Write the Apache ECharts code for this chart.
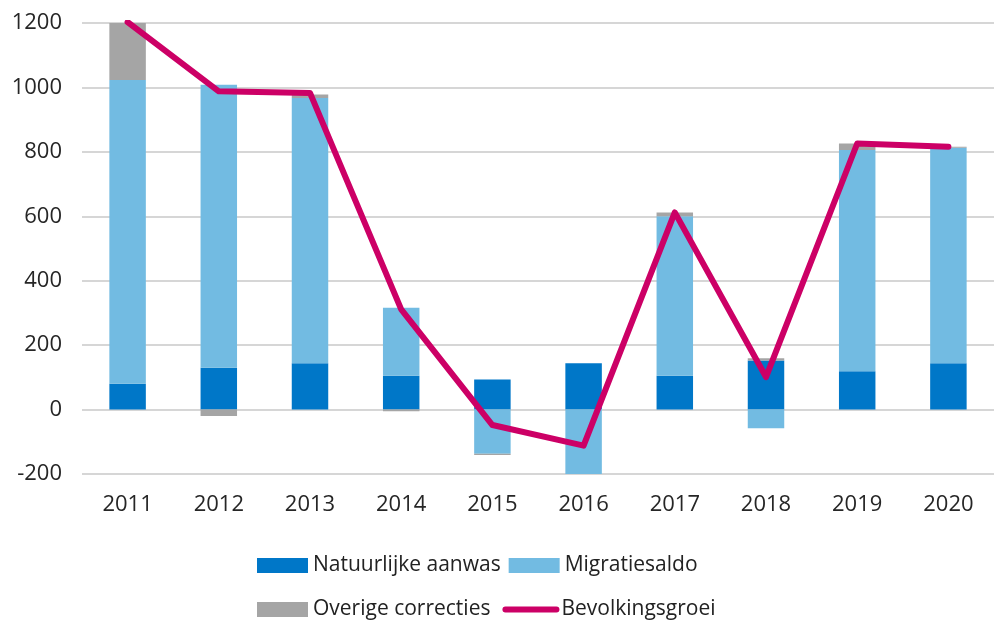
<!DOCTYPE html>
<html>
<head>
    <meta charset="utf-8">
    <title>Bevolkingsgroei</title>
    <script src="https://cdn.jsdelivr.net/npm/echarts@6/dist/echarts.min.js"></script>
    <style>
        html, body { margin: 0; padding: 0; background: #fff; }
        #main { width: 994px; height: 622px; }
    </style>
</head>
<body>
<div id="main"></div>
<script>
    // data
    var years = ['2011', '2012', '2013', '2014', '2015', '2016', '2017', '2018', '2019', '2020'];
    var natuurlijk = [80, 130, 144, 105, 93, 144, 105, 152, 119, 144];
    var migratie = [943, 878, 823, 211, -137, -205, 495, -58, 687, 669];
    var overig = [180, -20, 11, -5, -4, -51, 12, 7, 20, 3];
    var groei = [1203, 988, 983, 311, -48, -112, 612, 101, 826, 816];

    var font = 'Open Sans';
    var chart = echarts.init(document.getElementById('main'));

    var option = {
        animation: false,
        textStyle: { fontFamily: font },
        grid: { left: 82, right: -11, top: 23, bottom: 148 },
        legend: [
            {
                left: 252, top: 550,
                itemWidth: 51, itemHeight: 15, itemGap: 8,
                icon: 'rect',
                textStyle: { fontSize: 21, color: '#222', fontFamily: font },
                data: ['Natuurlijke aanwas', 'Migratiesaldo']
            },
            {
                left: 252, top: 594,
                itemWidth: 51, itemHeight: 15, itemGap: 12,
                textStyle: { fontSize: 21, color: '#222', fontFamily: font },
                lineStyle: { width: 6, cap: 'round' },
                data: [
                    { name: 'Overige correcties', icon: 'rect' },
                    { name: 'Bevolkingsgroei', itemStyle: { opacity: 0 } }
                ]
            }
        ],
        xAxis: {
            type: 'category',
            data: years,
            axisLine: { show: false, onZero: false },
            axisTick: { show: false },
            axisLabel: { fontSize: 22, color: '#262626', margin: 20 }
        },
        yAxis: {
            type: 'value',
            min: -200,
            max: 1200,
            interval: 200,
            axisLine: { show: false },
            axisTick: { show: false },
            axisLabel: {
                fontSize: 22, color: '#262626', margin: 20,
                formatter: function (v) { return String(v); }
            },
            splitLine: { lineStyle: { color: '#d6d6d6', width: 2 } }
        },
        series: [
            {
                name: 'Natuurlijke aanwas',
                type: 'bar',
                stack: 'tot',
                barWidth: '40%',
                itemStyle: { color: '#0077c8' },
                data: natuurlijk
            },
            {
                name: 'Migratiesaldo',
                type: 'bar',
                stack: 'tot',
                itemStyle: { color: '#72bbe2' },
                data: migratie
            },
            {
                name: 'Overige correcties',
                type: 'bar',
                stack: 'tot',
                itemStyle: { color: '#a5a5a5' },
                data: overig
            },
            {
                name: 'Bevolkingsgroei',
                type: 'line',
                symbol: 'none',
                lineStyle: { color: '#cc0066', width: 6, cap: 'round', join: 'round' },
                itemStyle: { color: '#cc0066' },
                data: groei,
                z: 5
            }
        ]
    };

    chart.setOption(option);
</script>
</body>
</html>
